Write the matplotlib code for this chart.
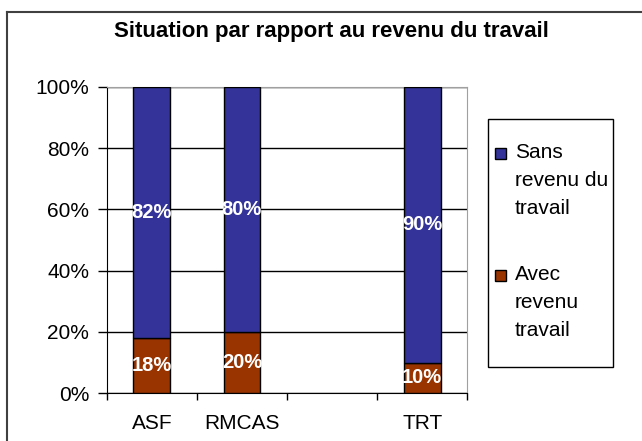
import matplotlib.pyplot as plt
from matplotlib.patches import Rectangle
from matplotlib.lines import Line2D
import numpy as np

plt.rcParams['font.family'] = ['Liberation Sans', 'DejaVu Sans']

# data
categories = ['ASF', 'RMCAS', '', 'TRT']
avec = [18, 20, None, 10]
sans = [82, 80, None, 90]
series_names = ['Sans\nrevenu du\ntravail', 'Avec\nrevenu\ntravail']
blue = '#333399'
brown = '#993300'

W, H = 642, 441
fig = plt.figure(figsize=(W / 100, H / 100), dpi=100)

# outer chart frame
fig.add_artist(Line2D([6.5 / W, 6.5 / W], [0, 1 - 11.5 / H], color='#404040', lw=1.5))
fig.add_artist(Line2D([6.5 / W, 1], [1 - 11.5 / H, 1 - 11.5 / H], color='#404040', lw=1.5))

ax = fig.add_axes([106.7 / W, 1 - 393.3 / H, (467.3 - 106.7) / W, (393.3 - 86.7) / H])

x = np.arange(len(categories))
width = 0.407
for i in range(len(categories)):
    if avec[i] is None:
        continue
    ax.bar(x[i], avec[i], width, color=brown, edgecolor='black', lw=1, zorder=3)
    ax.bar(x[i], sans[i], width, bottom=avec[i], color=blue, edgecolor='black', lw=1, zorder=3)
    ax.text(x[i], avec[i] / 2, f'{avec[i]}%', color='white', fontweight='bold',
            fontsize=14.5, ha='center', va='center', zorder=4)
    ax.text(x[i], avec[i] + sans[i] / 2, f'{sans[i]}%', color='white', fontweight='bold',
            fontsize=14.5, ha='center', va='center', zorder=4)

ax.set_xlim(-0.5, len(categories) - 0.5)
ax.set_ylim(0, 100)
ax.set_yticks(np.arange(0, 101, 20))
ax.set_yticklabels([f'{v}%' for v in range(0, 101, 20)], fontsize=15)
ax.yaxis.grid(True, color='black', lw=1, zorder=1)
ax.tick_params(axis='y', direction='out', length=6.5, width=1, pad=6)

ax.set_xticks(np.arange(-0.5, len(categories), 1.0))
ax.set_xticklabels([])
ax.tick_params(axis='x', which='major', direction='out', length=5, width=1)
ax.set_xticks(x, minor=True)
ax.set_xticklabels(categories, minor=True, fontsize=15)
ax.tick_params(axis='x', which='minor', length=0, pad=15)

for s in ['top', 'right']:
    ax.spines[s].set_color('#a0a0a0')
for s in ['left', 'bottom']:
    ax.spines[s].set_color('black')

fig.text(331 / W, 1 - 31 / H, 'Situation par rapport au revenu du travail',
         ha='center', va='center', fontsize=16, fontweight='bold')

# legend
fig.add_artist(Rectangle((488.3 / W, 1 - 366.7 / H), (612.7 - 488.3) / W, (366.7 - 119) / H,
                         transform=fig.transFigure, fill=False, edgecolor='black', lw=1))
leg_y = [180, 302]
mark_y = [153, 275]
for name, col, ly, my in zip(series_names, [blue, brown], leg_y, mark_y):
    fig.add_artist(Rectangle((495 / W, 1 - (my + 5.5) / H), 11 / W, 11 / H,
                             transform=fig.transFigure, facecolor=col, edgecolor='black', lw=1))
    fig.text(515 / W, 1 - ly / H, name, ha='left', va='center', fontsize=15, linespacing=1.6)

fig.savefig('out.png', dpi=100)
